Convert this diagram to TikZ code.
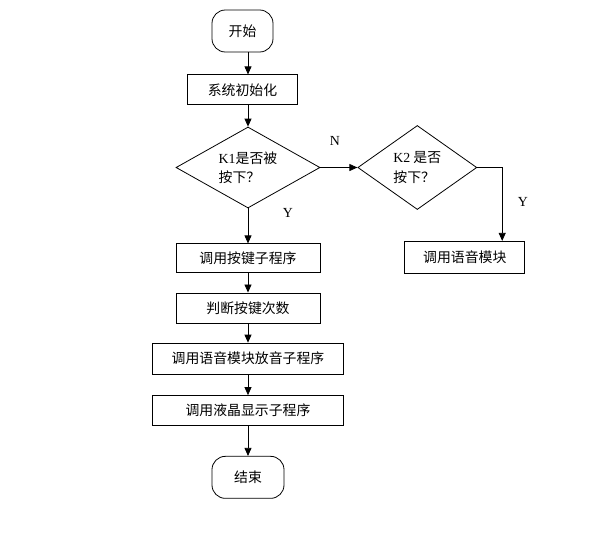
\documentclass[tikz,border=0pt]{standalone}
\usepackage{fontspec}
\setmainfont{Liberation Serif}
\newfontfamily\cjk{Noto Sans CJK SC}
\newfontfamily\lat{Liberation Serif}
\usetikzlibrary{shapes.geometric, arrows.meta, positioning}

\begin{document}
\begin{tikzpicture}[
    x=0.75pt, y=-0.75pt,
    terminal/.style={rectangle, draw, rounded corners=10pt, minimum width=54pt, minimum height=31.5pt, inner sep=0pt, font=\cjk\fontsize{10.4}{13}\selectfont},
    process/.style={rectangle, draw, minimum width=108pt, minimum height=22.5pt, inner sep=0pt, font=\cjk\fontsize{10.4}{13}\selectfont},
    decision/.style={diamond, draw, inner sep=0pt, align=left, font=\cjk\fontsize{10.4}{14.5}\selectfont},
    arrow/.style={-{Triangle[length=6pt, width=5.25pt]}},
    tag/.style={font=\lat\fontsize{10.4}{13}\selectfont},
    line width=0.6pt
]
    \useasboundingbox (0,0) rectangle (590,533);

    % Start and initialisation
    \node[terminal, minimum width=45.75pt] (start) at (242.5,31) {开始};
    \node[process, minimum width=82.5pt, minimum height=22.5pt, below=16.5pt of start] (init) {系统初始化};

    % Decisions
    \node[decision, shape aspect=1.78, minimum width=108pt, minimum height=60.75pt] (k1) at (248,167.5) {{\lat K1}是否被\\按下？};
    \node[decision, shape aspect=1.42, minimum width=89.25pt, minimum height=63pt, right=27.75pt of k1] (k2) {{\lat K2} 是否\\按下？};

    % Right branch
    \node[process, minimum width=90pt, minimum height=24pt, below=23.25pt of k2, xshift=35.6pt] (voice) {调用语音模块};
    \coordinate[right=18.75pt of k2.east] (k2turn);

    % Main column
    \node[process, minimum height=21.75pt, below=26.25pt of k1] (callkey) {调用按键子程序};
    \node[process, below=14.5pt of callkey] (count) {判断按键次数};
    \node[process, minimum width=143.25pt, minimum height=23.25pt, below=14.5pt of count] (play) {调用语音模块放音子程序};
    \node[process, minimum width=143.25pt, below=15.5pt of play] (lcd) {调用液晶显示子程序};
    \node[terminal, below=22.5pt of lcd] (stop) {结束};

    % Labels
    \node[tag] (nlabel) at (335,141) {N};
    \node[tag] (ylabel) at (288,213) {Y};
    \node[tag] (y2label) at (523,202) {Y};

    % Connectors
    \draw[arrow] (start.south -| k1.north) -- (init.north -| k1.north);
    \draw[arrow] (init.south -| k1.north) -- (k1.north);
    \draw[arrow] (k1.south) -- (callkey.north);
    \draw[arrow] (k1.east) -- (k2.west);
    \draw[arrow] (k2.east) -| (k2turn |- voice.north);
    \draw[arrow] (callkey) -- (count);
    \draw[arrow] (count) -- (play);
    \draw[arrow] (play) -- (lcd);
    \draw[arrow] (lcd) -- (stop);
\end{tikzpicture}
\end{document}
